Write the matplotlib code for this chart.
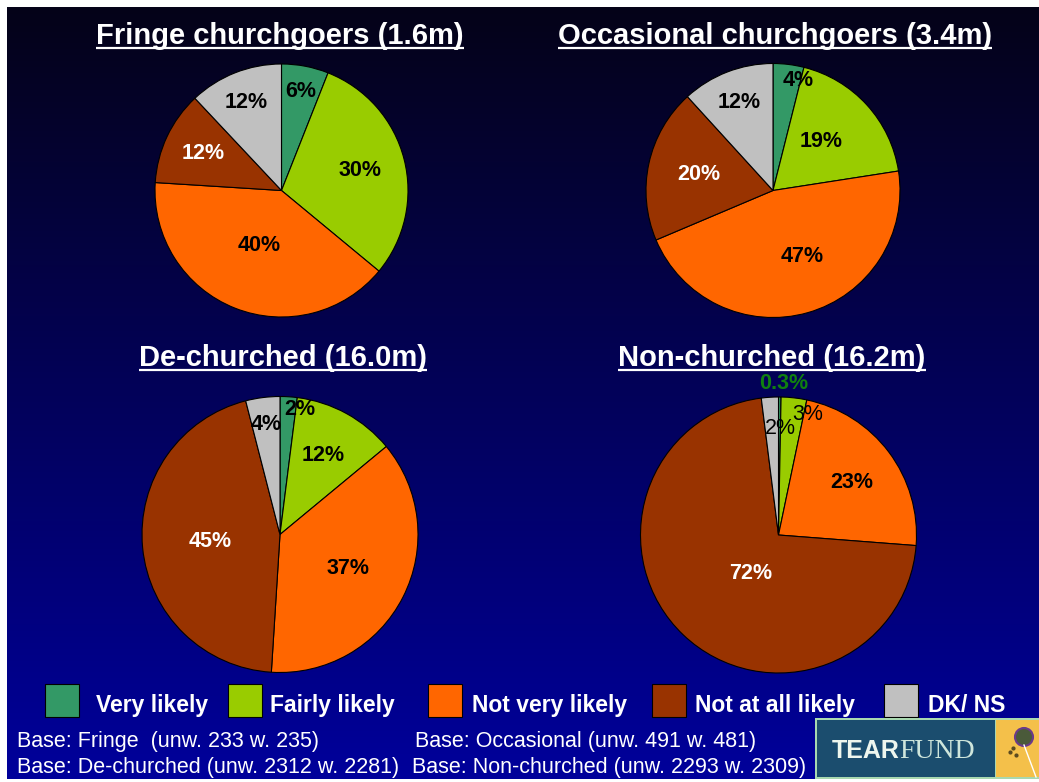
import numpy as np
import matplotlib
matplotlib.use('Agg')
import matplotlib.pyplot as plt
from matplotlib.patches import Rectangle, Circle

plt.rcParams['font.family'] = ['Liberation Sans', 'DejaVu Sans']

W, H = 1039, 782

# ---------------- data ----------------
categories = ['Very likely', 'Fairly likely', 'Not very likely', 'Not at all likely', 'DK/ NS']
titles = ['Fringe churchgoers (1.6m)', 'Occasional churchgoers (3.4m)',
          'De-churched (16.0m)', 'Non-churched (16.2m)']
fringe = [6, 30, 40, 12, 12]
occasional = [4, 19, 47, 20, 12]
dechurched = [2, 12, 37, 45, 4]
nonchurched = [0.3, 3, 23, 72, 2]
bases = ['Base: Fringe  (unw. 233 w. 235)', 'Base: Occasional (unw. 491 w. 481)',
         'Base: De-churched (unw. 2312 w. 2281)', 'Base: Non-churched (unw. 2293 w. 2309)']

# ---------------- styles ----------------
colors = ['#339966', '#99CC00', '#FF6600', '#993300', '#C0C0C0']
series = [fringe, occasional, dechurched, nonchurched]
# centre x, centre y, radius (pixels)
pie_geom = [(281.5, 190.5, 126.5), (773, 190.5, 127), (280, 534.5, 138), (778.5, 535, 138)]
title_pos = [(280, 44), (775, 44), (283, 366), (772, 366)]
label_frac = [[0.80, 0.64, 0.47, 0.68, 0.75],
              [0.87, 0.57, 0.54, 0.60, 0.74],
              [0.91, 0.65, 0.55, 0.51, 0.80],
              [1.10, 0.88, 0.63, 0.39, 0.77]]
label_dx = [[0, 0, 0, 0, 0],
            [12, -5, 10, 0, 0],
            [12, 0, 0, 0, 0],
            [4, 16, 4, 9, 9]]
label_col = [['black', 'black', 'black', 'white', 'black']] * 3 + \
            [['#108010', 'black', 'black', 'white', 'black']]
label_wt = [['bold'] * 5] * 3 + [['bold', 'normal', 'bold', 'bold', 'normal']]

fig = plt.figure(figsize=(W / 100, H / 100), dpi=100)
fig.patch.set_facecolor('white')

# gradient background
bg = fig.add_axes([7 / W, 3 / H, (W - 7) / W, (H - 10) / H])
t = np.linspace(0, 1, 400)[:, None]
top = np.array([5, 3, 24]) / 255
bot = np.array([0, 0, 155]) / 255
grad = (top[None, None, :] * (1 - t[..., None]) + bot[None, None, :] * t[..., None])
bg.imshow(grad, aspect='auto', extent=[0, 1, 1, 0])
bg.set_axis_off()

pad = 1.04
for i, vals in enumerate(series):
    cx, cy, r = pie_geom[i]
    R = r * pad
    ax = fig.add_axes([(cx - R) / W, (H - cy - R) / H, 2 * R / W, 2 * R / H])
    wedges, _ = ax.pie(vals, colors=colors, startangle=90, counterclock=False,
                       wedgeprops=dict(edgecolor='black', linewidth=0.8))
    ax.set_xlim(-pad, pad)
    ax.set_ylim(-pad, pad)
    ax.set_aspect('equal')
    ax.set_axis_off()
    for j, (w, v) in enumerate(zip(wedges, vals)):
        ang = np.deg2rad((w.theta1 + w.theta2) / 2)
        f = label_frac[i][j]
        x = f * np.cos(ang) + label_dx[i][j] / r
        y = f * np.sin(ang)
        ax.text(x, y, f'{v:g}%', ha='center', va='center', fontsize=15.5,
                fontweight=label_wt[i][j], color=label_col[i][j])

# overlay axes in pixel coordinates
ov = fig.add_axes([0, 0, 1, 1])
ov.set_xlim(0, W)
ov.set_ylim(H, 0)
ov.set_axis_off()
ov.patch.set_alpha(0)

title_texts = []
for (tx, ty), s in zip(title_pos, titles):
    title_texts.append(ov.text(tx, ty, s, ha='center', va='baseline', fontsize=21,
                               fontweight='bold', color='white'))

# legend
sq_x = [45, 228, 428, 652, 884]
txt_x = [96, 270, 472, 695, 928]
for k, c in enumerate(categories):
    ov.add_patch(Rectangle((sq_x[k], 684), 34, 33, facecolor=colors[k],
                           edgecolor='black', linewidth=0.8))
    ov.text(txt_x[k], 712, c, ha='left', va='baseline', fontsize=16.5,
            fontweight='bold', color='white')

# base texts
base_pos = [(17, 747), (415, 747), (17, 773), (412, 773)]
for (bx, by), s in zip(base_pos, bases):
    ov.text(bx, by, s, ha='left', va='baseline', fontsize=15.5, color='white')

# logo
ov.add_patch(Rectangle((815, 718), 224, 61, facecolor='#a8d8b0', edgecolor='none'))
ov.add_patch(Rectangle((817, 720), 178, 57, facecolor='#1b4d6e', edgecolor='none'))
ov.add_patch(Rectangle((996, 720), 43, 57, facecolor='#f4c04a', edgecolor='none'))
ov.text(832, 758, 'TEAR', ha='left', va='baseline', fontsize=18, fontweight='bold',
        color='#eef6ee')
ov.text(899, 758, 'FUND', ha='left', va='baseline', fontsize=20,
        family='Liberation Serif', color='#cfe6dc')
ov.plot([1024, 1036], [745, 777], color='white', lw=1)
ov.add_patch(Circle((1024, 737), 9, facecolor='#4a5a3a', edgecolor='#6a3a8a', lw=1.5))
ov.plot([1010, 1013, 1016], [752, 748, 755], 'o', ms=2, color='#5a4a20')

# underlines for titles
fig.canvas.draw()
rend = fig.canvas.get_renderer()
for (tx, ty), tt in zip(title_pos, title_texts):
    bb = tt.get_window_extent(renderer=rend)
    ov.plot([bb.x0, bb.x1], [ty + 4, ty + 4], color='white', lw=1.6,
            solid_capstyle='butt')

fig.savefig('out.png', dpi=100, facecolor=fig.get_facecolor())
